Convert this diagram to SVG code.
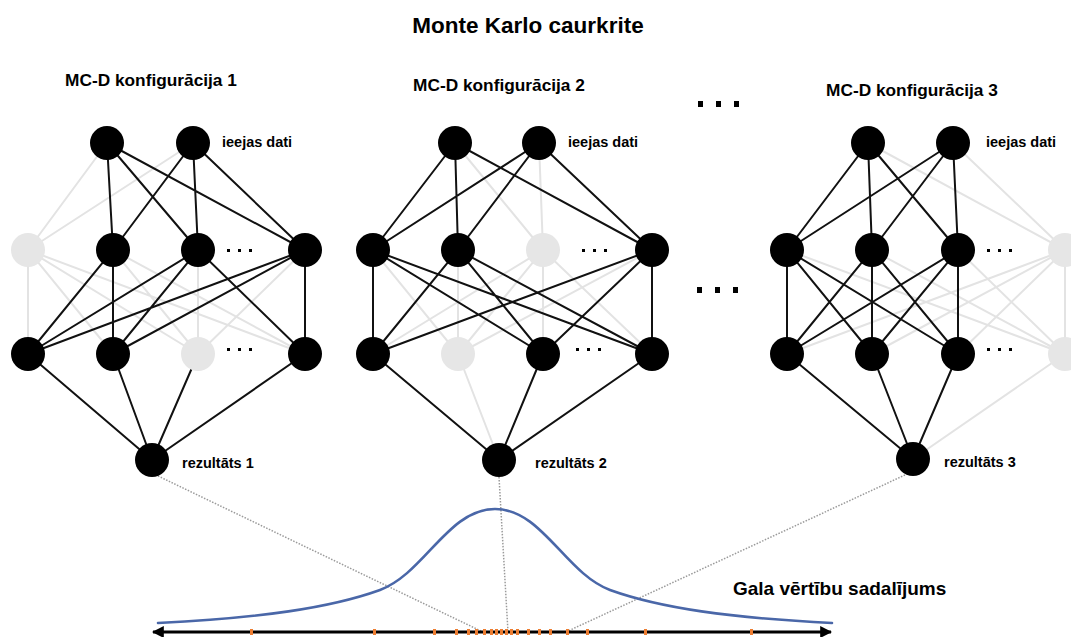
<svg xmlns="http://www.w3.org/2000/svg" width="1071" height="637" viewBox="0 0 1071 637">
<style>
.e{stroke:#111;stroke-width:2;fill:none}
.g{stroke:#e3e3e3;stroke-width:2;fill:none}
.d{stroke:#9a9a9a;stroke-width:1.5;stroke-dasharray:1.5 1.5;fill:none}
.n{fill:#000}
.ng{fill:#e6e6e6}
.t{font-family:"Liberation Sans",Arial,sans-serif;font-weight:bold;fill:#000}
.dot{fill:#000}
.tick{fill:#ed7d31}
</style>
<defs>
<marker id="ah" viewBox="0 0 10 10" refX="9" refY="5" markerWidth="4" markerHeight="4" orient="auto-start-reverse" markerUnits="strokeWidth">
<path d="M0,0 L10,5 L0,10 z" fill="#000"/>
</marker>
</defs>
<rect width="1071" height="637" fill="#fff"/>

<text class="t" x="528" y="33" font-size="22.5" text-anchor="middle">Monte Karlo caurkrite</text>
<text class="t" x="65" y="86" font-size="17.3">MC-D konfigurācija 1</text>
<text class="t" x="413" y="91" font-size="17.3">MC-D konfigurācija 2</text>
<text class="t" x="826" y="96" font-size="17.3">MC-D konfigurācija 3</text>
<g id="ellipsis-top"><rect class="dot" x="698" y="101" width="5" height="6"/><rect class="dot" x="716" y="101" width="5" height="6"/><rect class="dot" x="734" y="101" width="5" height="6"/></g>
<g id="ellipsis-mid"><rect class="dot" x="697" y="287" width="5" height="6"/><rect class="dot" x="715" y="287" width="5" height="6"/><rect class="dot" x="733" y="287" width="5" height="6"/></g>

<g id="connectors">
<!-- network 1 gray -->
<path class="g" d="M107,143L28,250 M193,143L28,250 M28,250L28,354 M28,250L113,354 M28,250L198,354 M28,250L305,354 M113,250L198,354 M198,250L198,354 M305,250L198,354 M113,250L305,354"/>
<!-- network 2 gray -->
<path class="g" d="M455,143L543,250 M539,143L543,250 M543,250L373,354 M543,250L458,354 M543,250L543,354 M543,250L652,354 M373,250L458,354 M458,250L458,354 M652,250L458,354 M458,354L499,460"/>
<!-- network 3 gray -->
<path class="g" d="M868,143L1065,250 M953,143L1065,250 M1065,250L787,354 M1065,250L872,354 M1065,250L958,354 M1065,250L1065,354 M787,250L1065,354 M872,250L1065,354 M958,250L1065,354 M1065,354L913,459"/>
<!-- network 1 black -->
<path class="e" d="M107,143L113,250 M107,143L198,250 M107,143L305,250 M193,143L113,250 M193,143L198,250 M193,143L305,250 M113,250L28,354 M113,250L113,354 M198,250L28,354 M198,250L113,354 M198,250L305,354 M305,250L28,354 M305,250L113,354 M305,250L305,354 M28,354L152,460 M113,354L152,460 M198,354L152,460 M305,354L152,460"/>
<!-- network 2 black -->
<path class="e" d="M455,143L373,250 M455,143L458,250 M455,143L652,250 M539,143L373,250 M539,143L458,250 M539,143L652,250 M373,250L373,354 M373,250L543,354 M373,250L652,354 M458,250L373,354 M458,250L543,354 M458,250L652,354 M652,250L373,354 M652,250L543,354 M652,250L652,354 M373,354L499,460 M543,354L499,460 M652,354L499,460"/>
<!-- network 3 black -->
<path class="e" d="M868,143L787,250 M868,143L872,250 M868,143L958,250 M953,143L787,250 M953,143L872,250 M953,143L958,250 M787,250L787,354 M787,250L872,354 M787,250L958,354 M872,250L787,354 M872,250L872,354 M872,250L958,354 M958,250L787,354 M958,250L872,354 M958,250L958,354 M787,354L913,459 M872,354L913,459 M958,354L913,459"/>
<!-- dotted projections -->
<path class="d" d="M158,476L483,632 M499,477L508,632 M905,475L566,632"/>
</g>

<g id="net1">
<g id="n1-in1"><circle class="n" cx="107" cy="143" r="17"/></g>
<g id="n1-in2"><circle class="n" cx="193" cy="143" r="17"/></g>
<text class="t" x="222" y="147" font-size="14.5">ieejas dati</text>
<g id="n1-h1a"><circle class="ng" cx="28" cy="250" r="17"/></g>
<g id="n1-h1b"><circle class="n" cx="113" cy="250" r="17"/></g>
<g id="n1-h1c"><circle class="n" cx="198" cy="250" r="17"/></g>
<g id="n1-h1d"><circle class="n" cx="305" cy="250" r="17"/></g>
<g id="n1-h2a"><circle class="n" cx="28" cy="354" r="17"/></g>
<g id="n1-h2b"><circle class="n" cx="113" cy="354" r="17"/></g>
<g id="n1-h2c"><circle class="ng" cx="198" cy="354" r="17"/></g>
<g id="n1-h2d"><circle class="n" cx="305" cy="354" r="17"/></g>
<g id="n1-out"><circle class="n" cx="152" cy="460" r="17"/></g>
<text class="t" x="182" y="468" font-size="14.5">rezultāts 1</text>
<rect class="dot" x="227" y="249" width="3" height="3"/><rect class="dot" x="238" y="249" width="3" height="3"/><rect class="dot" x="249" y="249" width="3" height="3"/>
<rect class="dot" x="227" y="348" width="3" height="3"/><rect class="dot" x="238" y="348" width="3" height="3"/><rect class="dot" x="249" y="348" width="3" height="3"/>
</g>

<g id="net2">
<g id="n2-in1"><circle class="n" cx="455" cy="143" r="17"/></g>
<g id="n2-in2"><circle class="n" cx="539" cy="143" r="17"/></g>
<text class="t" x="568" y="147" font-size="14.5">ieejas dati</text>
<g id="n2-h1a"><circle class="n" cx="373" cy="250" r="17"/></g>
<g id="n2-h1b"><circle class="n" cx="458" cy="250" r="17"/></g>
<g id="n2-h1c"><circle class="ng" cx="543" cy="250" r="17"/></g>
<g id="n2-h1d"><circle class="n" cx="652" cy="250" r="17"/></g>
<g id="n2-h2a"><circle class="n" cx="373" cy="354" r="17"/></g>
<g id="n2-h2b"><circle class="ng" cx="458" cy="354" r="17"/></g>
<g id="n2-h2c"><circle class="n" cx="543" cy="354" r="17"/></g>
<g id="n2-h2d"><circle class="n" cx="652" cy="354" r="17"/></g>
<g id="n2-out"><circle class="n" cx="499" cy="460" r="17"/></g>
<text class="t" x="535" y="468" font-size="14.5">rezultāts 2</text>
<rect class="dot" x="582" y="249" width="3" height="3"/><rect class="dot" x="593" y="249" width="3" height="3"/><rect class="dot" x="604" y="249" width="3" height="3"/>
<rect class="dot" x="576" y="348" width="3" height="3"/><rect class="dot" x="587" y="348" width="3" height="3"/><rect class="dot" x="598" y="348" width="3" height="3"/>
</g>

<g id="net3">
<g id="n3-in1"><circle class="n" cx="868" cy="143" r="17"/></g>
<g id="n3-in2"><circle class="n" cx="953" cy="143" r="17"/></g>
<text class="t" x="986" y="147" font-size="14.5">ieejas dati</text>
<g id="n3-h1a"><circle class="n" cx="787" cy="250" r="17"/></g>
<g id="n3-h1b"><circle class="n" cx="872" cy="250" r="17"/></g>
<g id="n3-h1c"><circle class="n" cx="958" cy="250" r="17"/></g>
<g id="n3-h1d"><circle class="ng" cx="1065" cy="250" r="17"/></g>
<g id="n3-h2a"><circle class="n" cx="787" cy="354" r="17"/></g>
<g id="n3-h2b"><circle class="n" cx="872" cy="354" r="17"/></g>
<g id="n3-h2c"><circle class="n" cx="958" cy="354" r="17"/></g>
<g id="n3-h2d"><circle class="ng" cx="1065" cy="354" r="17"/></g>
<g id="n3-out"><circle class="n" cx="913" cy="459" r="17"/></g>
<text class="t" x="944" y="467" font-size="14.5">rezultāts 3</text>
<rect class="dot" x="987" y="249" width="3" height="3"/><rect class="dot" x="998" y="249" width="3" height="3"/><rect class="dot" x="1009" y="249" width="3" height="3"/>
<rect class="dot" x="987" y="348" width="3" height="3"/><rect class="dot" x="998" y="348" width="3" height="3"/><rect class="dot" x="1009" y="348" width="3" height="3"/>
</g>

<g id="distribution">
<path fill="none" stroke="#4a67a8" stroke-width="2.6" stroke-linecap="round" d="M158,623 C260,618 330,608 380,590 C425,573 448,509 495,509 C542,509 565,573 610,590 C660,608 730,618 832,623"/>
<line x1="153" y1="632" x2="831" y2="632" stroke="#000" stroke-width="3" marker-start="url(#ah)" marker-end="url(#ah)"/>
<g id="ticks">
<rect class="tick" x="250" y="629" width="3" height="6"/><rect class="tick" x="373" y="629" width="3" height="6"/><rect class="tick" x="433" y="629" width="3" height="6"/><rect class="tick" x="455" y="629" width="3" height="6"/><rect class="tick" x="467" y="629" width="3" height="6"/><rect class="tick" x="475" y="629" width="3" height="6"/><rect class="tick" x="483" y="629" width="3" height="6"/><rect class="tick" x="490" y="629" width="3" height="6"/><rect class="tick" x="495" y="629" width="3" height="6"/><rect class="tick" x="500" y="629" width="3" height="6"/><rect class="tick" x="505" y="629" width="3" height="6"/><rect class="tick" x="510" y="629" width="3" height="6"/><rect class="tick" x="516" y="629" width="3" height="6"/><rect class="tick" x="527" y="629" width="3" height="6"/><rect class="tick" x="538" y="629" width="3" height="6"/><rect class="tick" x="549" y="629" width="3" height="6"/><rect class="tick" x="566" y="629" width="3" height="6"/><rect class="tick" x="586" y="629" width="3" height="6"/><rect class="tick" x="644" y="629" width="3" height="6"/><rect class="tick" x="750" y="629" width="3" height="6"/>
</g>
<text class="t" x="733" y="595" font-size="19">Gala vērtību sadalījums</text>
</g>
</svg>
